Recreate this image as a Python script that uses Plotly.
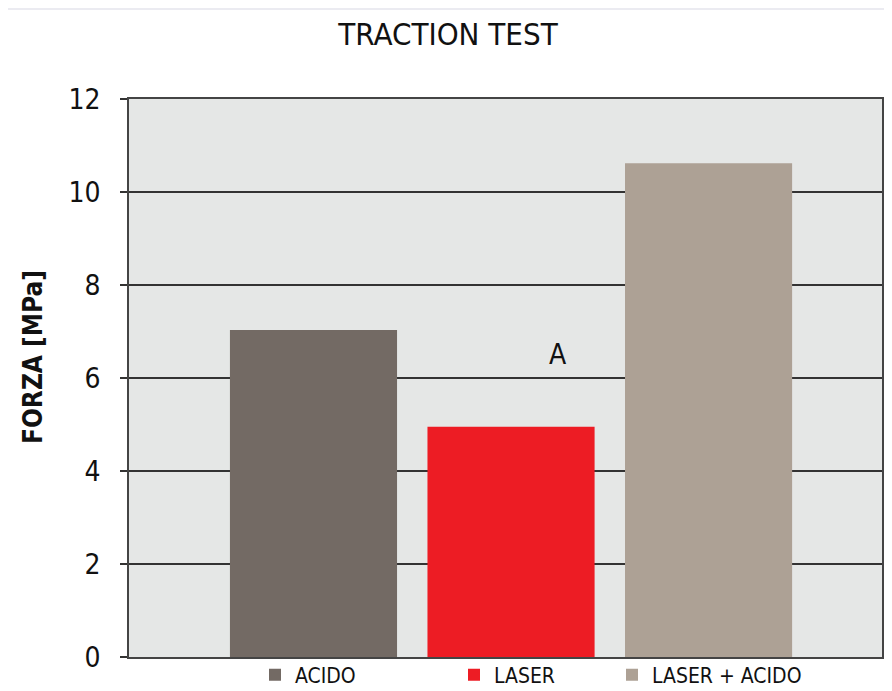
import plotly.graph_objects as go

categories = ["ACIDO", "LASER", "LASER + ACIDO"]
values = [7.03, 4.95, 10.62]
colors = ["#736a64", "#ed1c24", "#ada195"]
tick_vals = [0, 2, 4, 6, 8, 10, 12]

FONT = "DejaVu Sans Condensed, Liberation Sans Narrow, Roboto, sans-serif"

# page is rendered with an 8px body offset; margins compensate
L, R, T, B = 121, 18, 91, 42
W, H = 892, 691
PW = W - L - R
PH = H - T - B

def px(x):
    return (x - L) / PW

def py(y):
    return (H - B - y) / PH

fig = go.Figure()
legend_names = ["legend", "legend2", "legend3"]
for cat, val, col, lg in zip(categories, values, colors, legend_names):
    fig.add_trace(go.Bar(x=[cat], y=[val], name=cat, marker_color=col,
                         marker_line_width=0, width=0.846, legend=lg, showlegend=True))

leg_common = dict(orientation="h", yanchor="middle", y=py(667), xanchor="left",
                  font=dict(family=FONT, size=21, color="#111"),
                  bgcolor="rgba(0,0,0,0)", itemwidth=30, tracegroupgap=0)

fig.update_layout(
    width=W, height=H,
    margin=dict(l=L, r=R, t=T, b=B, autoexpand=False),
    paper_bgcolor="white",
    plot_bgcolor="#e5e7e6",
    barmode="overlay",
    showlegend=True,
    title=dict(text="TRACTION TEST", x=440 / W, xanchor="center", y=1 - 26 / H,
               yanchor="middle", font=dict(family=FONT, size=31, color="#111")),
    legend=dict(leg_common, x=px(247)),
    legend2=dict(leg_common, x=px(446)),
    legend3=dict(leg_common, x=px(604)),
    xaxis=dict(range=[-0.934, 2.878], showticklabels=False, ticks="",
               showgrid=False, showline=True, linecolor="#444", linewidth=1.5,
               mirror=True, zeroline=False, automargin=False),
    yaxis=dict(range=[0, 12], tickvals=tick_vals, ticks="outside", ticklen=7,
               tickcolor="#333", tickwidth=1.5, showgrid=True, gridcolor="#333",
               gridwidth=1.5, showline=True, linecolor="#444", linewidth=1.5,
               mirror=True, zeroline=False, automargin=False,
               ticklabelstandoff=14,
               tickfont=dict(family=FONT, size=28, color="#111")),
    annotations=[
        dict(x=1.24, y=6.5, xref="x", yref="y", text="A", showarrow=False,
             font=dict(family=FONT, size=28, color="#111")),
        dict(x=px(25), y=py(349), xref="paper", yref="paper", text="<b>FORZA [MPa]</b>",
             textangle=-90, showarrow=False, xanchor="center", yanchor="middle",
             font=dict(family=FONT, size=26, color="#111")),
    ],
    shapes=[dict(type="line", xref="paper", yref="paper", x0=px(0), x1=px(W),
                 y0=py(1), y1=py(1), line=dict(color="#e4e4ec", width=1.5))],
)

fig.write_html("out.html")
